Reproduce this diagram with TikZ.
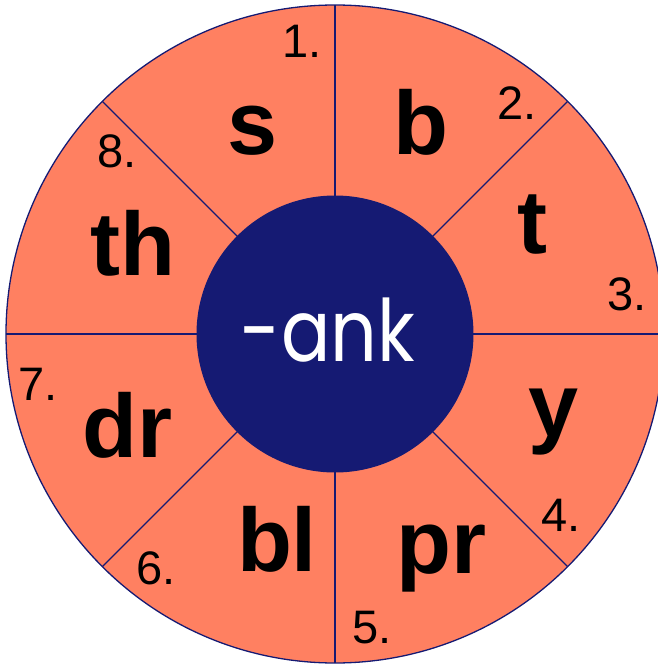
\documentclass[tikz,border=0pt]{standalone}
\usepackage{fontspec}
\setmainfont{Liberation Sans}
\newfontfamily\popfont[FakeStretch=0.85]{Poppins}
\usetikzlibrary{positioning}
\definecolor{Coral}{HTML}{FF8061}
\definecolor{Navy}{HTML}{151A73}
\tikzset{
  wheel/.style={draw=Navy,fill=Coral,line width=1.3pt},
  spoke/.style={draw=Navy,line width=1.1pt},
  onset/.style={anchor=base,inner sep=0pt,font=\fontsize{90}{90}\selectfont\bfseries},
  num/.style={anchor=base,inner sep=0pt,font=\fontsize{47}{47}\selectfont},
  rime/.style={anchor=base,inner sep=0pt,text=white,font=\popfont\fontsize{86}{86}\selectfont},
}
\begin{document}
\begin{tikzpicture}[x=1pt,y=1pt]
  \useasboundingbox (-335,-336) rectangle (323,334);
  \clip (-335,-336) rectangle (323,334);
  \path[wheel] (0,0) circle (329);
  \draw[spoke] (90:329) -- (270:329);
  \draw[spoke] (0:329) -- (180:329);
  \draw[spoke] (45:329) -- (225:329);
  \draw[spoke] (135:329) -- (315:329);
  \fill[Navy] (0,0) circle (138.5);

  \node[rime] (ank) at (-7,-27) {-ank};

  \node[onset] (s) at (-82,179) {s};
  \node[onset] (b) at (86,179) {b};
  \node[onset] (t) at (197,81) {t};
  \node[onset] (y) at (219,-102) {y};
  \node[onset] (pr) at (107,-239) {pr};
  \node[onset] (bl) at (-58,-237) {bl};
  \node[onset] (dr) at (-207,-123) {dr};
  \node[onset] (th) at (-202,59) {th};

  \node[num] (n1) at (-33,276) {1.};
  \node[num] (n2) at (182,214) {2.};
  \node[num] (n3) at (292,24) {3.};
  \node[num] (n4) at (226,-197) {4.};
  \node[num] (n5) at (37,-309) {5.};
  \node[num] (n6) at (-179,-250) {6.};
  \node[num] (n7) at (-297,-66) {7.};
  \node[num] (n8) at (-218,166) {8.};
\end{tikzpicture}
\end{document}
